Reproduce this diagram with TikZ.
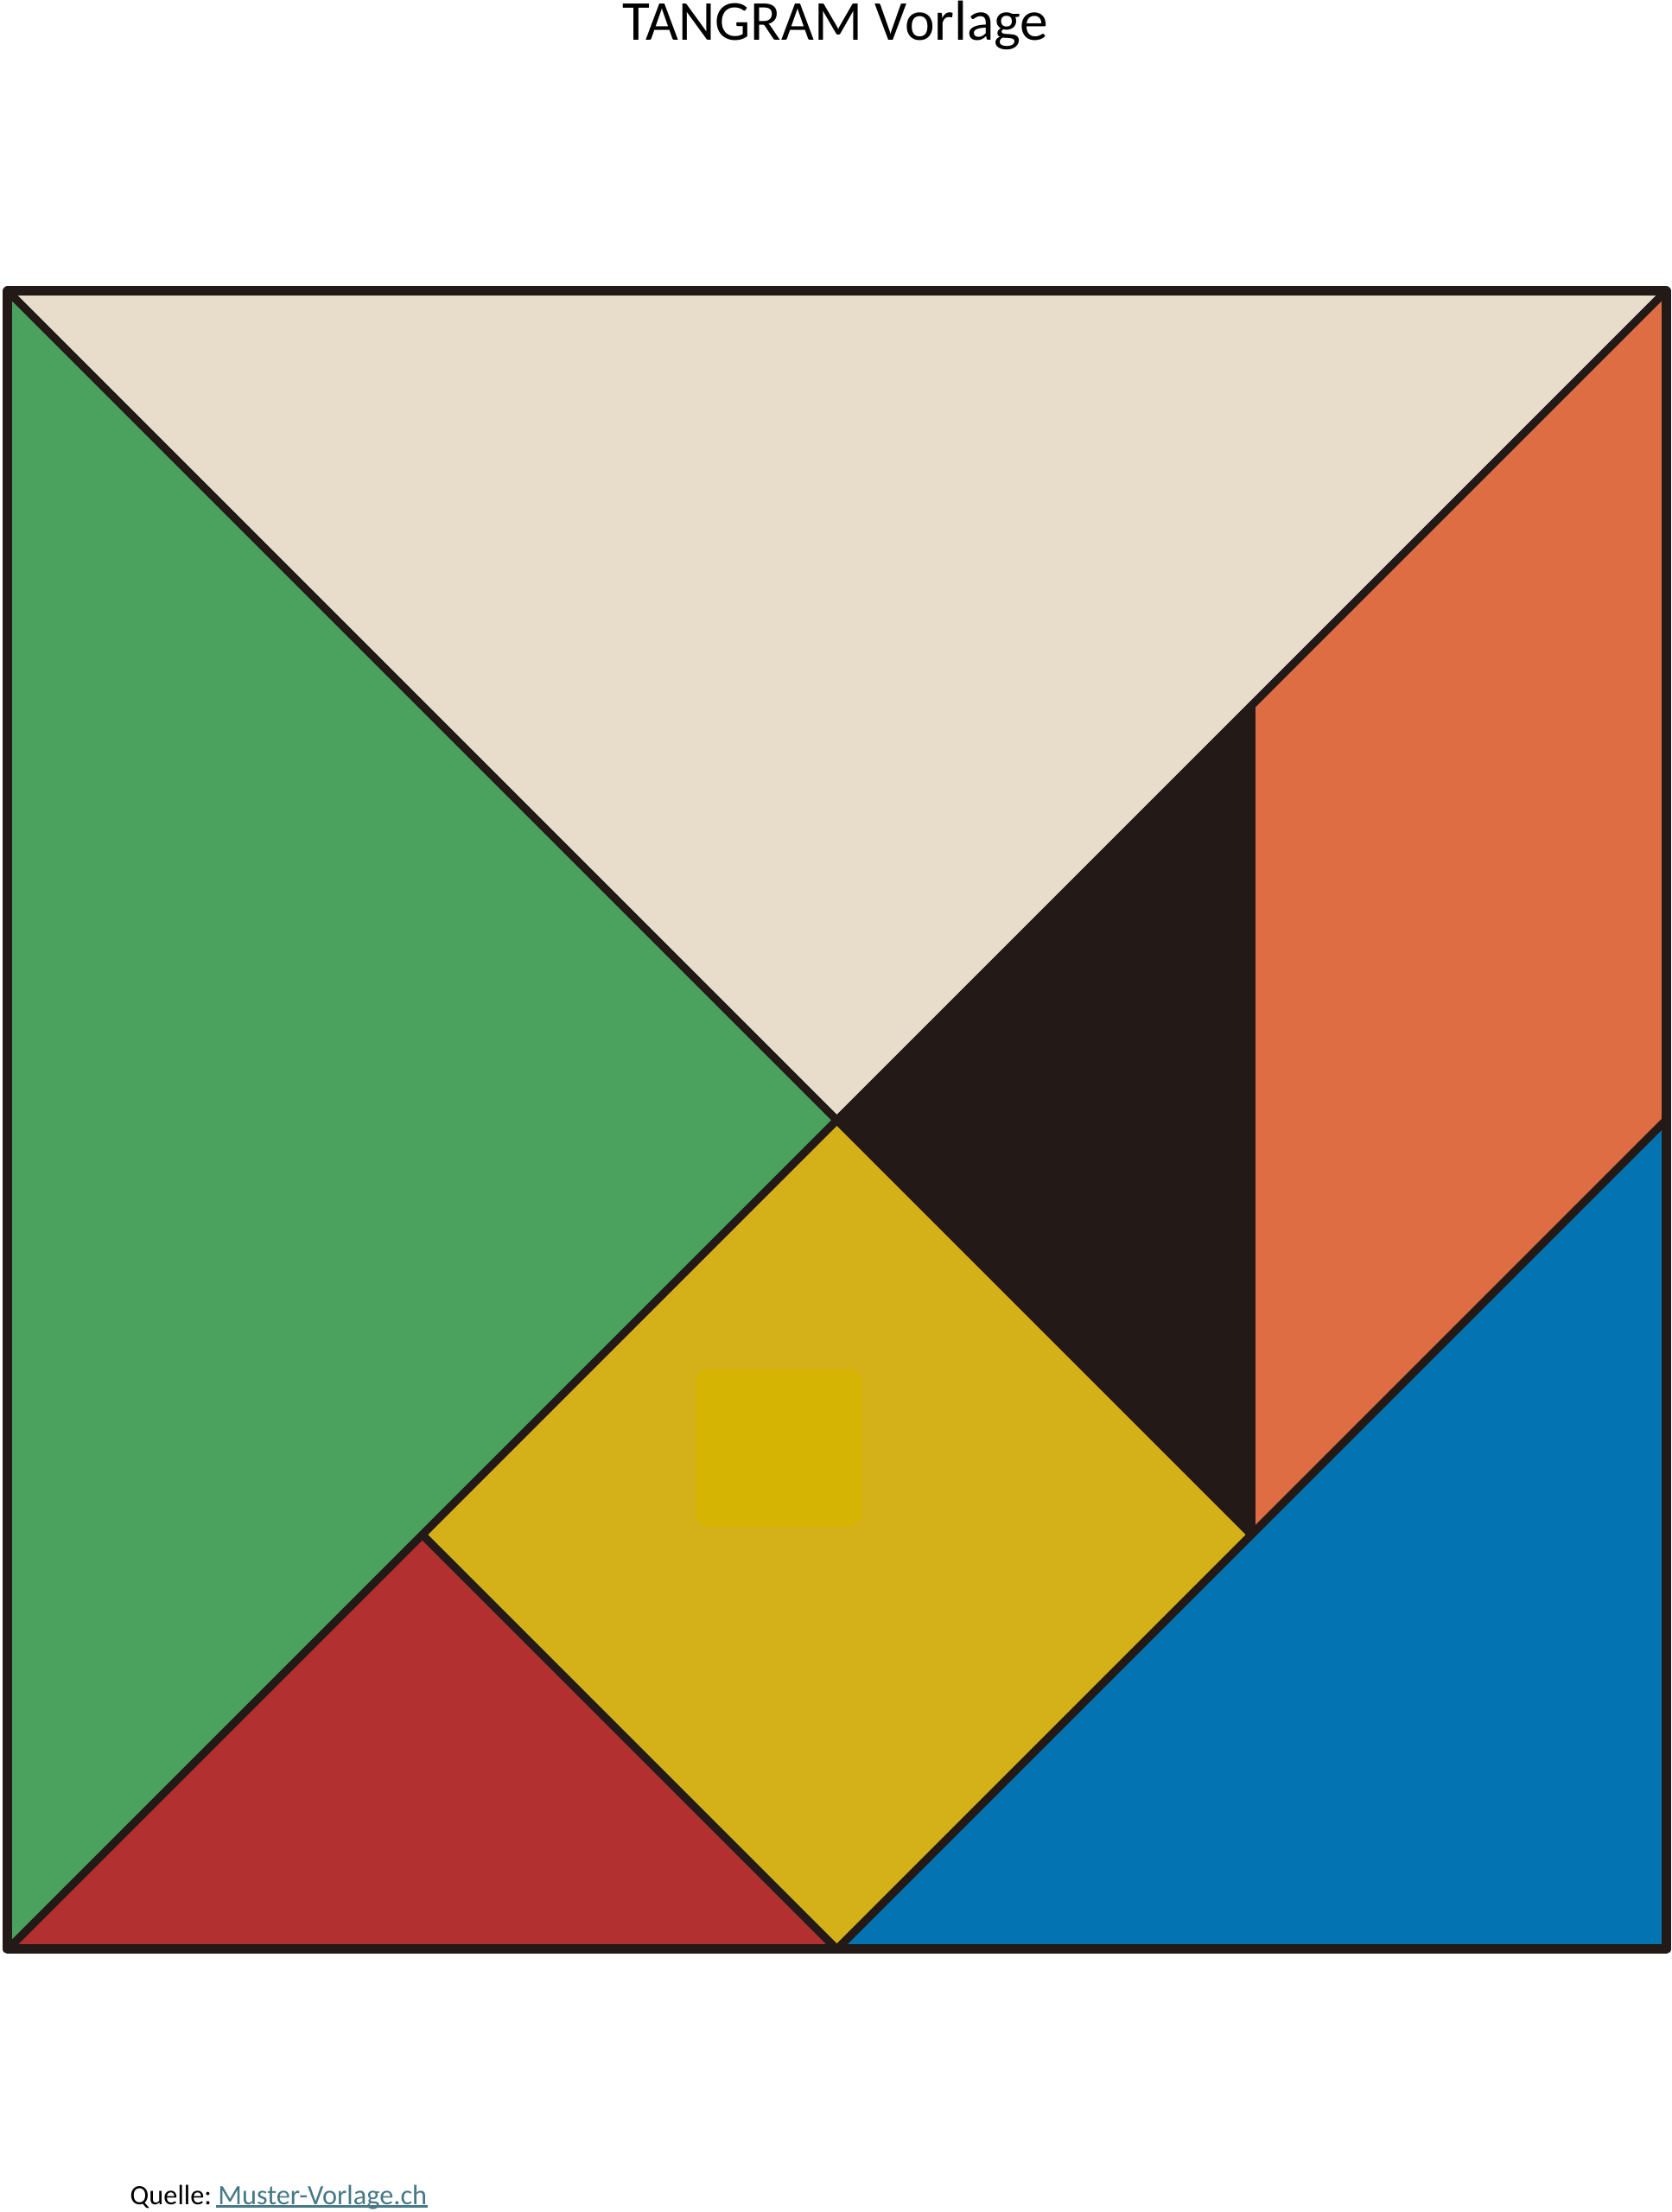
\documentclass[tikz,border=0pt]{standalone}
\usepackage{fontspec}
\setmainfont{Carlito}
\definecolor{beige}{HTML}{E8DCCB}
\definecolor{green}{HTML}{4BA15E}
\definecolor{orange}{HTML}{DE6D43}
\definecolor{dark}{HTML}{231A18}
\definecolor{yellow}{HTML}{D4B118}
\definecolor{yellowspot}{HTML}{D6B404}
\definecolor{red}{HTML}{B23030}
\definecolor{blue}{HTML}{0473B2}
\definecolor{linkcol}{HTML}{467886}
\begin{document}
\begin{tikzpicture}[
    piece/.style={draw=dark, line width=0.09cm, line join=round},
    frame/.style={draw=dark, line width=0.11cm, line join=round}]
                \useasboundingbox (0.000000,0.000000) rectangle (19.350000,25.600000);
                
                % Title
                \node (title) [anchor=base] at (9.670000,25.130000) {\fontsize{18.6}{22}\selectfont TANGRAM Vorlage};%
                
                \begin{scope}[shift={(0.090000,3.040000)}, x=19.190000cm, y=19.190000cm]
                % Corner points of the square
                \coordinate (A) at (0.000000,0.000000);%
                \coordinate (B) at (1.000000,0.000000);%
                \coordinate (C) at (1.000000,1.000000);%
                \coordinate (D) at (0.000000,1.000000);%
                % Inner points
                \coordinate (M) at (0.500000,0.500000);%
                \coordinate (E) at (0.500000,0.000000);%
                \coordinate (F) at (1.000000,0.500000);%
                \coordinate (G) at (0.750000,0.750000);%
                \coordinate (H) at (0.750000,0.250000);%
                \coordinate (K) at (0.250000,0.250000);%
                
                % Large triangle D C M
                \filldraw [piece, fill=beige] (D) -- (C) -- (M) -- cycle;%
                
                % Large triangle A D M
                \filldraw [piece, fill=green] (A) -- (D) -- (M) -- cycle;%
                
                % Parallelogram G C F H
                \filldraw [piece, fill=orange] (G) -- (C) -- (F) -- (H) -- cycle;%
                
                % Small triangle M G H
                \filldraw [piece, fill=dark] (M) -- (G) -- (H) -- cycle;%
                
                % Square M H E K
                \filldraw [piece, fill=yellow] (M) -- (H) -- (E) -- (K) -- cycle;%
                \fill [yellowspot, rounded corners=0.15cm] (0.415000,0.255000) rectangle (0.515000,0.350000);%
                
                % Small triangle A K E
                \filldraw [piece, fill=red] (A) -- (K) -- (E) -- cycle;%
                
                % Middle triangle E F B
                \filldraw [piece, fill=blue] (E) -- (F) -- (B) -- cycle;%
                
                % Outer frame A B C D
                \draw [frame] (A) -- (B) -- (C) -- (D) -- cycle;%
                \end{scope}
                
                % Source line
                \node (source) [anchor=base west, inner sep=0pt] at (1.500000,0.090000) {\fontsize{9.2}{11}\selectfont Quelle:\ \textcolor{linkcol}{Muster-Vorlage.ch}};%
                \draw [linkcol, line width=0.025cm] ([xshift=-2.45cm,yshift=-0.025cm]source.base east) -- ([yshift=-0.025cm]source.base east);%
            \end{tikzpicture}
\end{document}
